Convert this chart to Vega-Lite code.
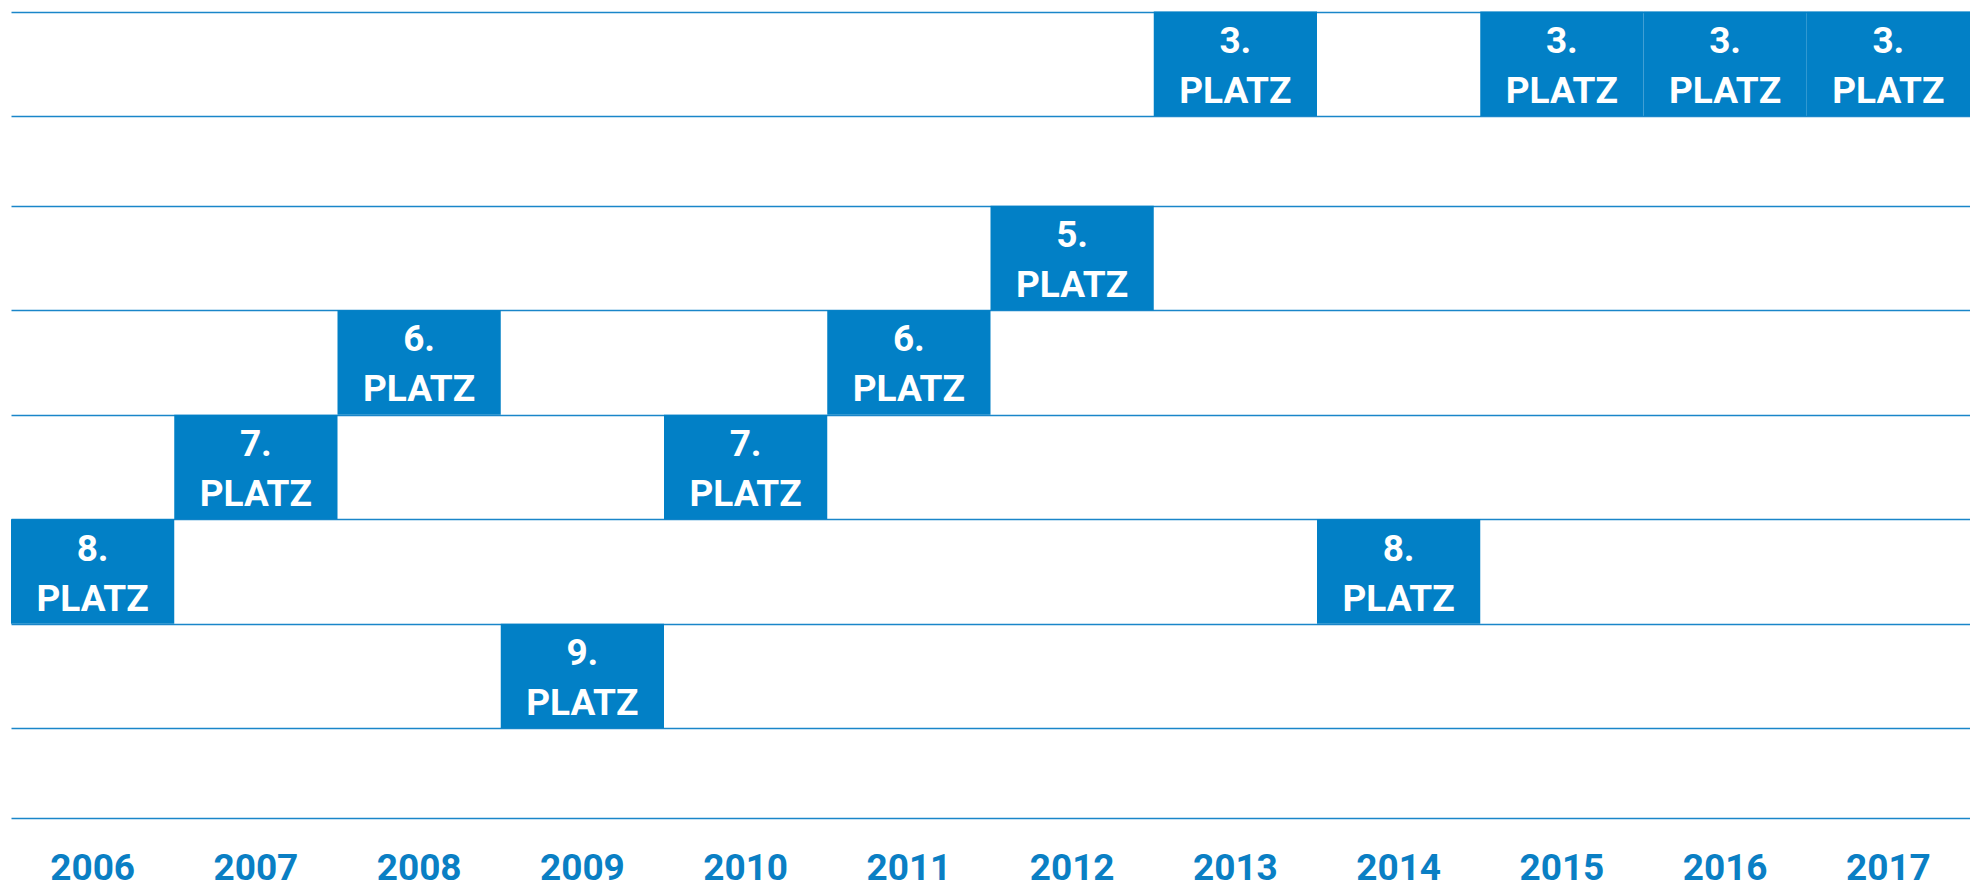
{
  "$schema": "https://vega.github.io/schema/vega-lite/v6.json",
  "autosize": {"type": "none"},
  "padding": {"left": 11, "top": 0, "right": 0, "bottom": 64},
  "width": 1959,
  "height": 818,
  "background": "white",
  "data": {
    "values": [
      {"year": "2006", "rank": 8, "label": "8. PLATZ"},
      {"year": "2007", "rank": 7, "label": "7. PLATZ"},
      {"year": "2008", "rank": 6, "label": "6. PLATZ"},
      {"year": "2009", "rank": 9, "label": "9. PLATZ"},
      {"year": "2010", "rank": 7, "label": "7. PLATZ"},
      {"year": "2011", "rank": 6, "label": "6. PLATZ"},
      {"year": "2012", "rank": 5, "label": "5. PLATZ"},
      {"year": "2013", "rank": 3, "label": "3. PLATZ"},
      {"year": "2014", "rank": 8, "label": "8. PLATZ"},
      {"year": "2015", "rank": 3, "label": "3. PLATZ"},
      {"year": "2016", "rank": 3, "label": "3. PLATZ"},
      {"year": "2017", "rank": 3, "label": "3. PLATZ"}
    ]
  },
  "encoding": {
    "x": {
      "field": "year",
      "type": "ordinal",
      "scale": {"paddingInner": 0, "paddingOuter": 0},
      "axis": {
        "title": null,
        "orient": "bottom",
        "domain": false,
        "ticks": false,
        "tickSize": 0,
        "grid": false,
        "labelAngle": 0,
        "labelFont": "Roboto",
        "labelFontWeight": "bold",
        "labelFontSize": 37,
        "labelColor": "#0a7fc4",
        "labelBaseline": "top",
        "labelPadding": 32
      }
    },
    "y": {
      "field": "rank",
      "type": "quantitative",
      "scale": {
        "domain": [2.5, 3.5, 4.5, 9.5, 10.5],
        "range": [11.7, 116, 205.7, 728.3, 818],
        "zero": false,
        "nice": false
      },
      "axis": {
        "title": null,
        "values": [2.5, 3.5, 4.5, 5.5, 6.5, 7.5, 8.5, 9.5, 10.5],
        "labels": false,
        "ticks": false,
        "domain": false,
        "grid": true,
        "gridColor": "#1a86c9",
        "gridWidth": 1.5,
        "gridOpacity": 1
      }
    }
  },
  "layer": [
    {
      "mark": {"type": "rect", "height": 104.5, "color": "#0280c6"}
    },
    {
      "mark": {
        "type": "text",
        "lineBreak": " ",
        "lineHeight": 50,
        "font": "Roboto",
        "fontWeight": "bold",
        "fontSize": 37,
        "color": "white",
        "align": "center",
        "baseline": "middle",
        "dy": -22
      },
      "encoding": {"text": {"field": "label"}}
    }
  ],
  "config": {"view": {"stroke": null}}
}
